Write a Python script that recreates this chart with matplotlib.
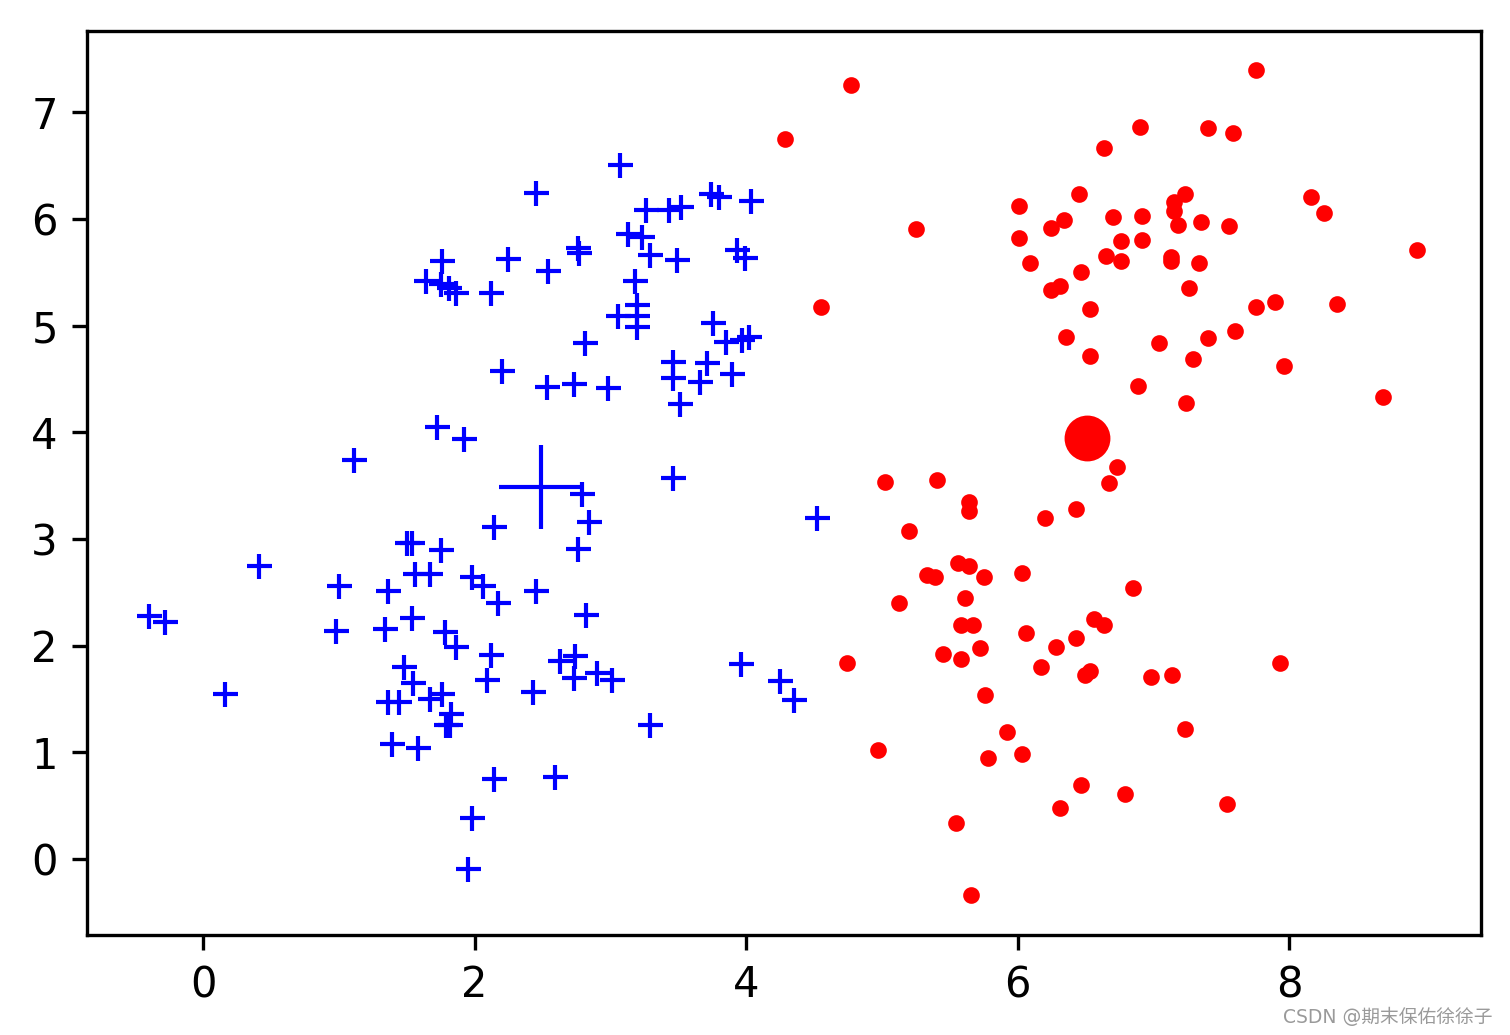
import numpy as np
import matplotlib.pyplot as plt

plt.rcParams['font.family'] = ['DejaVu Sans', 'Noto Sans CJK SC']

# cluster 0 (blue +)
x0 = [3.07, 2.45, 3.74, 3.80, 4.04, 3.26, 3.43, 3.52, 3.13, 3.23,
      3.93, 3.99, 2.76, 2.77, 2.25, 3.29, 3.49, 2.54, 1.76, 1.64,
      1.75, 1.81, 1.86, 2.12, 3.18, 3.20, 3.06, 3.20, 3.20, 3.76,
      3.85, 3.97, 4.02, 2.81, 2.20, 2.53, 2.73, 2.98, 3.46, 3.71,
      3.46, 3.66, 3.90, 3.51, 1.72, 1.92, 1.11, 3.46, 2.79, 2.84,
      2.14, 4.52, 2.76, 0.41, 1.50, 1.54, 1.75, 1.00, 1.36, 1.56,
      1.67, 1.98, 2.06, 2.17, 2.45, -0.40, -0.28, 0.98, 1.34, 1.54,
      1.78, 1.86, 2.82, 2.12, 2.63, 2.74, 1.48, 1.55, 1.36, 1.44,
      1.67, 1.76, 2.09, 2.43, 2.73, 2.90, 3.01, 0.16, 3.96, 4.25,
      4.35, 1.83, 1.79, 1.82, 3.29, 1.39, 1.58, 2.14, 2.59, 1.98,
      1.95]
y0 = [6.50, 6.24, 6.23, 6.20, 6.17, 6.08, 6.08, 6.11, 5.86, 5.83,
      5.71, 5.63, 5.73, 5.68, 5.62, 5.66, 5.61, 5.51, 5.60, 5.42,
      5.39, 5.35, 5.30, 5.30, 5.42, 5.19, 5.09, 5.09, 4.99, 5.02,
      4.85, 4.86, 4.89, 4.84, 4.57, 4.42, 4.45, 4.41, 4.66, 4.65,
      4.51, 4.47, 4.55, 4.26, 4.05, 3.94, 3.74, 3.57, 3.42, 3.16,
      3.11, 3.20, 2.91, 2.75, 2.96, 2.96, 2.90, 2.56, 2.51, 2.67,
      2.67, 2.64, 2.56, 2.40, 2.51, 2.28, 2.22, 2.14, 2.16, 2.26,
      2.13, 1.99, 2.29, 1.91, 1.86, 1.90, 1.80, 1.65, 1.47, 1.47,
      1.50, 1.55, 1.68, 1.57, 1.70, 1.74, 1.68, 1.55, 1.83, 1.67,
      1.49, 1.36, 1.26, 1.26, 1.26, 1.08, 1.04, 0.75, 0.77, 0.38,
      -0.09]

# cluster 1 (red dots)
x1 = [4.77, 4.29, 6.64, 6.45, 6.01, 6.34, 6.25, 6.70, 5.25, 6.01,
      6.09, 6.76, 6.65, 6.76, 6.47, 6.31, 6.25, 4.55, 6.53, 6.36,
      6.53, 7.76, 6.90, 7.40, 7.59, 7.23, 7.15, 7.15, 8.16, 8.26,
      6.92, 7.18, 7.35, 7.56, 8.94, 6.92, 7.13, 7.13, 7.34, 7.26,
      7.76, 7.90, 8.35, 7.04, 7.40, 7.60, 7.29, 7.96, 6.89, 7.24,
      8.69, 6.73, 6.67, 5.02, 5.41, 5.64, 5.64, 6.43, 6.20, 5.20,
      5.56, 5.64, 5.33, 5.39, 5.75, 6.03, 6.85, 5.13, 5.61, 5.58,
      5.67, 6.56, 6.64, 6.06, 6.43, 6.28, 5.72, 5.45, 5.58, 6.17,
      6.53, 6.50, 4.74, 6.98, 7.14, 7.93, 5.76, 7.23, 5.92, 4.97,
      5.78, 6.03, 6.47, 6.79, 6.31, 7.54, 5.55, 5.66]
y1 = [7.25, 6.75, 6.66, 6.23, 6.12, 5.99, 5.91, 6.02, 5.90, 5.82,
      5.59, 5.79, 5.65, 5.60, 5.50, 5.37, 5.33, 5.17, 5.15, 4.89,
      4.71, 7.39, 6.86, 6.85, 6.80, 6.23, 6.16, 6.07, 6.20, 6.05,
      6.03, 5.94, 5.97, 5.93, 5.71, 5.80, 5.64, 5.60, 5.59, 5.35,
      5.17, 5.22, 5.20, 4.84, 4.88, 4.95, 4.69, 4.62, 4.43, 4.27,
      4.33, 3.67, 3.52, 3.53, 3.55, 3.35, 3.26, 3.28, 3.20, 3.07,
      2.77, 2.75, 2.66, 2.64, 2.64, 2.68, 2.54, 2.40, 2.45, 2.19,
      2.19, 2.25, 2.19, 2.12, 2.07, 1.99, 1.98, 1.92, 1.87, 1.80,
      1.76, 1.72, 1.84, 1.71, 1.72, 1.84, 1.54, 1.22, 1.19, 1.02,
      0.95, 0.98, 0.69, 0.61, 0.48, 0.52, 0.34, -0.34]

# cluster centres
centers_x = [2.49, 6.51]
centers_y = [3.49, 3.95]

fig = plt.figure(figsize=(1510 / 300, 1035 / 300), dpi=300)
ax = fig.add_axes([87 / 1510, 100 / 1035, 1394 / 1510, 904 / 1035])

ax.plot(x0, y0, 'b+')
ax.plot(x1, y1, 'r.')
ax.plot(centers_x[0], centers_y[0], 'b+', markersize=20)
ax.plot(centers_x[1], centers_y[1], 'r.', markersize=20)

ax.set_xlim(-0.855, 9.414)
ax.set_ylim(-0.712, 7.76)

fig.text(0.9885, 0.0175, 'CSDN @期末保佑徐徐子', ha='right', va='center',
         fontsize=4.5, color='#9a9a9a',
         family=['DejaVu Sans', 'Noto Sans CJK SC'])

fig.savefig('out.png', dpi=300)
